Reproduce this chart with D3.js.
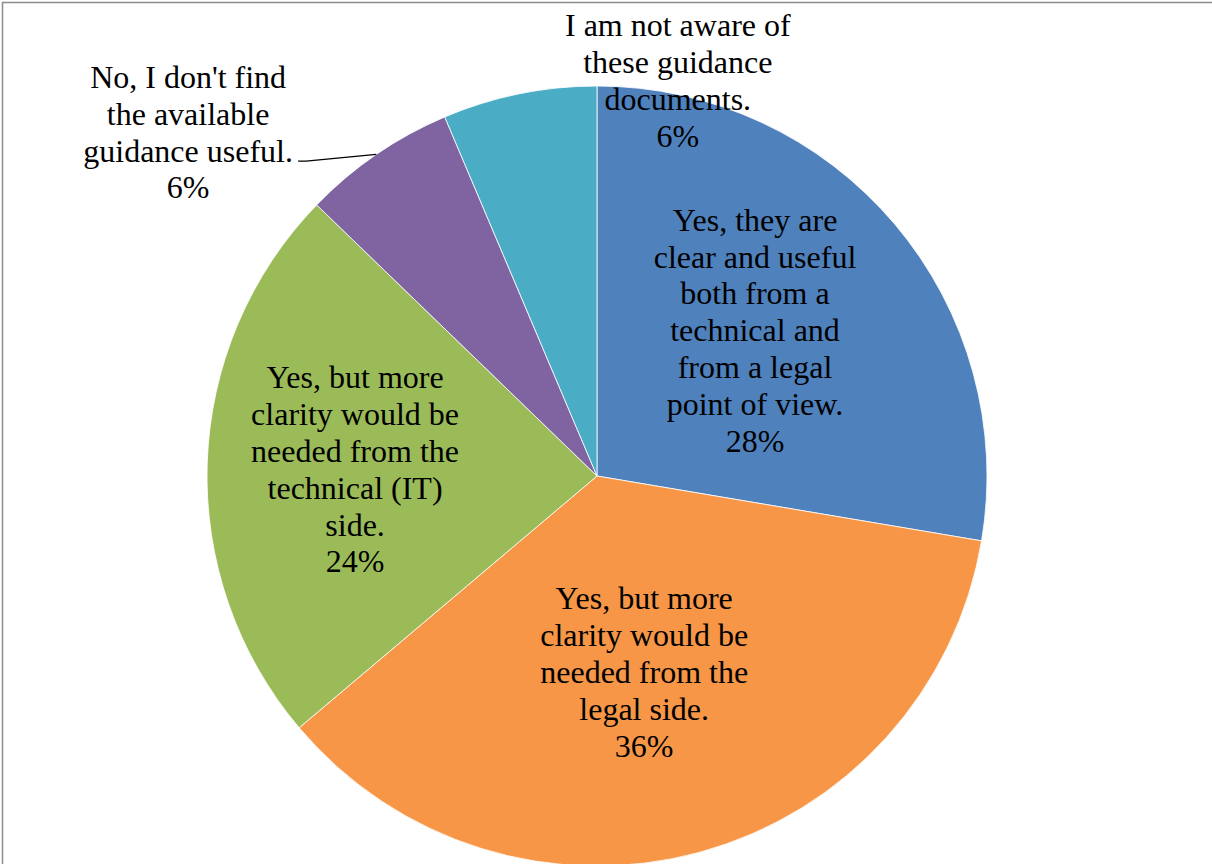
<!DOCTYPE html>
<html>
<head>
<meta charset="utf-8">
<script src="https://cdn.jsdelivr.net/npm/d3@7"></script>
<style>
  html, body { margin: 0; padding: 0; background: #fff; }
  svg { display: block; }
  .lbl { font-family: "Liberation Serif", "Times New Roman", serif; }
</style>
</head>
<body>
<svg id="chart" width="1212" height="864"></svg>
<script>
// ---- data ----
const categories = [
  "Yes, they are clear and useful both from a technical and from a legal point of view.",
  "Yes, but more clarity would be needed from the legal side.",
  "Yes, but more clarity would be needed from the technical (IT) side.",
  "No, I don't find the available guidance useful.",
  "I am not aware of these guidance documents."
];
const counts = [13, 17, 11, 3, 3];
const percentLabels = ["28%", "36%", "24%", "6%", "6%"];
const labelLines = [
  ["Yes, they are", "clear and useful", "both from a", "technical and", "from a legal", "point of view."],
  ["Yes, but more", "clarity would be", "needed from the", "legal side."],
  ["Yes, but more", "clarity would be", "needed from the", "technical (IT)", "side."],
  ["No, I don't find", "the available", "guidance useful."],
  ["I am not aware of", "these guidance", "documents."]
];
const colors = ["#4F81BD", "#F79646", "#9BBB59", "#8064A2", "#4BACC6"];

// ---- layout (positions of label blocks, polar from pie centre) ----
const labelPolar = [
  { r: 213.6, a: 47.7 },
  { r: 203.5, a: 166.6 },
  { r: 242.0, a: 271.1 },
  { r: 533.0, a: 309.9 },
  { r: 401.8, a: 11.6 }
];

const svg = d3.select("#chart");
const W = 1212, H = 864;
const cx = 597, cy = 476, R = 390;
const fontSize = 32, lineH = 36.8;

// chart border
svg.append("rect")
  .attr("x", 2.5).attr("y", 2.5)
  .attr("width", W + 20).attr("height", H + 20)
  .attr("fill", "none")
  .attr("stroke", "#8c8c8c")
  .attr("stroke-width", 1.5);

const g = svg.append("g").attr("transform", `translate(${cx},${cy})`);

const pie = d3.pie().sort(null).value(d => d);
const arcs = pie(counts);
const arc = d3.arc().innerRadius(0).outerRadius(R);

g.selectAll("path.slice")
  .data(arcs)
  .join("path")
  .attr("class", "slice")
  .attr("d", arc)
  .attr("fill", (d, i) => colors[i])
  .attr("stroke", "#ffffff")
  .attr("stroke-width", 0.8);

// labels
const toXY = (r, deg) => {
  const a = deg * Math.PI / 180;
  return [r * Math.sin(a), -r * Math.cos(a)];
};

labelLines.forEach((lines, i) => {
  const all = lines.concat([percentLabels[i]]);
  const [lx, ly] = toXY(labelPolar[i].r, labelPolar[i].a);
  const firstBase = ly - (all.length - 1) / 2 * lineH + 9;
  const t = g.append("text")
    .attr("class", "lbl")
    .attr("text-anchor", "middle")
    .attr("font-size", fontSize)
    .attr("fill", "#000");
  all.forEach((s, k) => {
    t.append("tspan")
      .attr("x", lx)
      .attr("y", firstBase + k * lineH)
      .text(s);
  });
});

// leader line for the small purple slice
(function () {
  const d = arcs[3];
  const mid = (d.startAngle + d.endAngle) / 2;
  const ex = R * Math.sin(mid), ey = -R * Math.cos(mid);
  const [lx, ly] = toXY(labelPolar[3].r, labelPolar[3].a);
  const sx = lx + 110, sy = ly + 27;
  g.append("path")
    .attr("d", d3.line()([[sx, sy], [sx + 8, sy], [ex, ey]]))
    .attr("fill", "none")
    .attr("stroke", "#000")
    .attr("stroke-width", 1.3);
})();
</script>
</body>
</html>
